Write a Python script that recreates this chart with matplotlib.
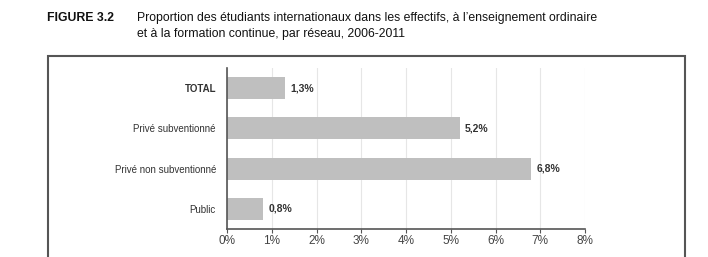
import numpy as np
import matplotlib.pyplot as plt
from matplotlib.patches import Rectangle
from matplotlib import font_manager

categories = ['Public', 'Privé non subventionné', 'Privé subventionné', 'TOTAL']
values = [0.8, 6.8, 5.2, 1.3]
value_labels = ['0,8%', '6,8%', '5,2%', '1,3%']
xticks = [0, 1, 2, 3, 4, 5, 6, 7, 8]

names = {f.name for f in font_manager.fontManager.ttflist}
narrow = 'Liberation Sans Narrow' if 'Liberation Sans Narrow' in names else 'Liberation Sans'
plt.rcParams['font.family'] = ['Liberation Sans', 'DejaVu Sans']

fig = plt.figure(figsize=(7.08, 2.57), dpi=100)

# title block
fig.text(47 / 708, 1 - 18 / 257, 'FIGURE 3.2', family=narrow, fontweight='bold',
         fontsize=8.8, va='center', ha='left', color='#111111')
fig.text(137 / 708, 1 - 18 / 257,
         'Proportion des étudiants internationaux dans les effectifs, à l\u2019enseignement ordinaire',
         family=narrow, fontsize=8.8, va='center', ha='left', color='#111111')
fig.text(137 / 708, 1 - 34 / 257, 'et à la formation continue, par réseau, 2006-2011',
         family=narrow, fontsize=8.8, va='center', ha='left', color='#111111')

# frame around the chart
fig.patches.append(Rectangle((48 / 708, -0.1), (685 - 48) / 708, 1.1 - 56 / 257,
                             transform=fig.transFigure, fill=False,
                             edgecolor='#555555', linewidth=1.5))

ax = fig.add_axes([227 / 708, 1 - 229 / 257, (585 - 227) / 708, (229 - 68) / 257])
y = np.arange(len(categories))
ax.barh(y, values, height=0.55, color='#bfbfbf', zorder=2)
for yi, v, lab in zip(y, values, value_labels):
    ax.text(v + 0.12, yi, lab, va='center', ha='left', fontsize=7.5,
            fontweight='bold', color='#333333')

ax.set_xlim(0, 8)
ax.set_ylim(-0.5, 3.5)
ax.set_xticks(xticks)
ax.set_xticklabels([f'{t}%' for t in xticks], fontsize=8.5, color='#444444')
ax.set_yticks(y)
ax.set_yticklabels(categories, fontsize=7, color='#333333')
ax.get_yticklabels()[-1].set_fontweight('bold')
ax.tick_params(axis='y', length=0, pad=8)
ax.tick_params(axis='x', length=3, width=0.8, color='#555555', pad=1.5)
ax.grid(axis='x', color='#e6e6e6', linewidth=0.8, zorder=0)
for s in ['top', 'right']:
    ax.spines[s].set_visible(False)
for s in ['left', 'bottom']:
    ax.spines[s].set_color('#555555')
    ax.spines[s].set_linewidth(1.2)

fig.savefig('out.png', dpi=100)
